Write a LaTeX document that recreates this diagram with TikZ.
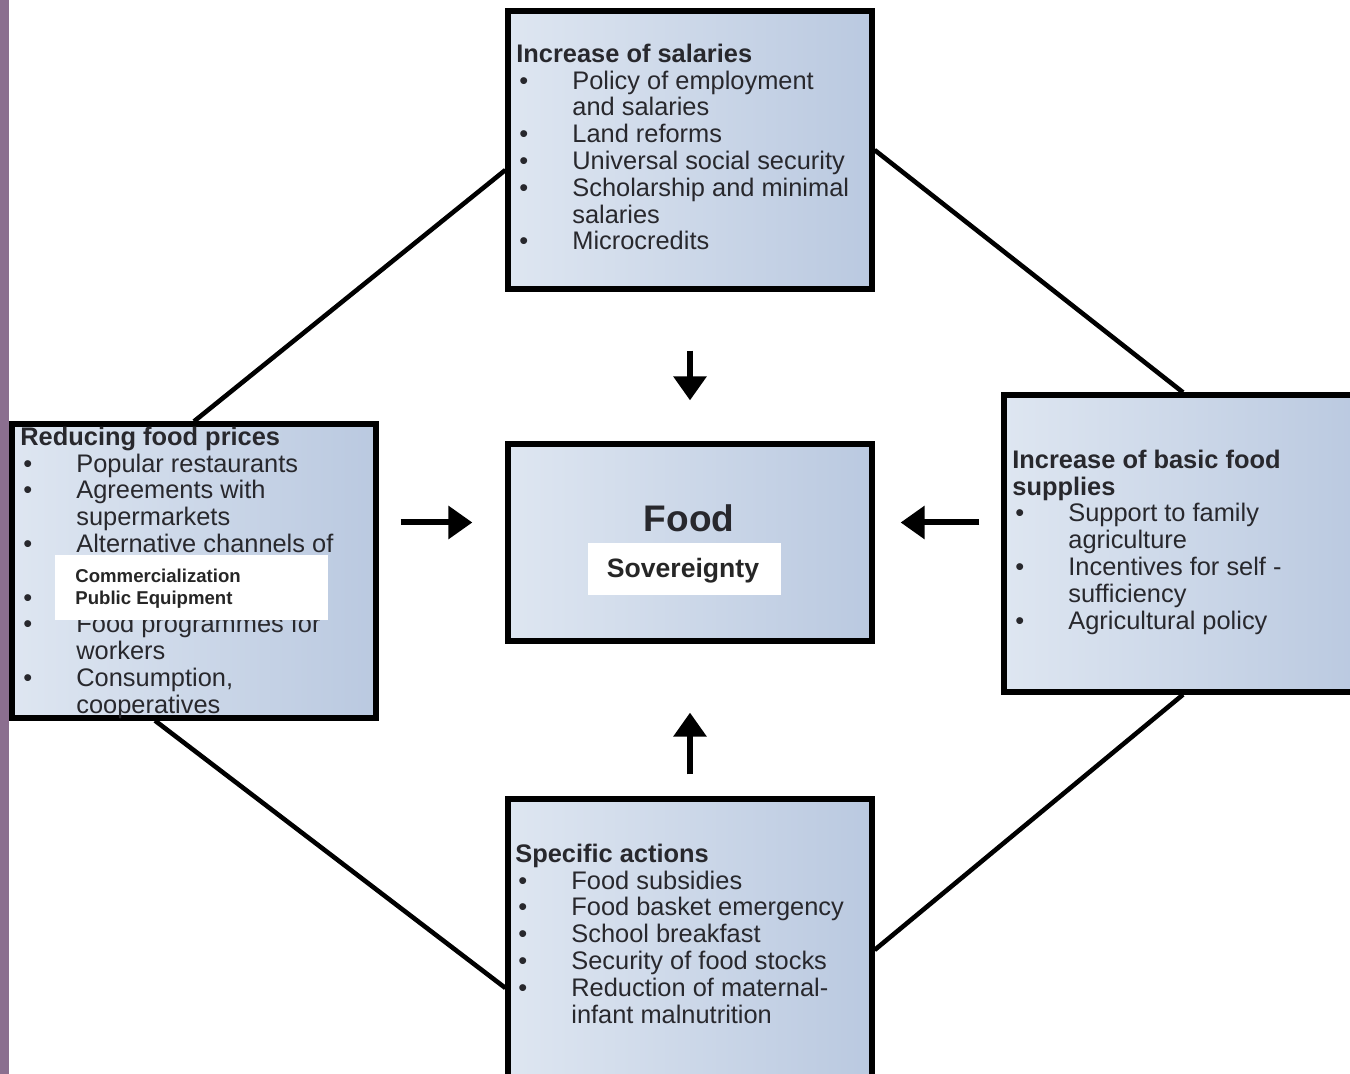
\documentclass[tikz,border=0pt]{standalone}
\usepackage{fontspec}
\setmainfont{Liberation Sans}
\usetikzlibrary{arrows.meta,fit,calc}
\definecolor{txt}{RGB}{40,40,45}
\definecolor{boxL}{RGB}{222,230,241}
\definecolor{boxR}{RGB}{186,201,224}
\definecolor{stripcol}{RGB}{139,111,143}
\definecolor{covertxt}{RGB}{38,38,38}
\newcommand{\bitem}[1]{\makebox[28pt][l]{\hspace*{1.5pt}\textbullet}#1}
\newcommand{\contline}[1]{\hspace*{28pt}#1}
\begin{document}
\begin{tikzpicture}[x=0.5pt,y=-0.5pt,
  box/.style={draw=black, line width=2.6pt, inner sep=0pt, left color=boxL, right color=boxR},
  boxtext/.style={anchor=north west, inner sep=0pt, align=left, text=txt, font=\fontsize{12.7}{13.4}\selectfont},
  link/.style={line width=2.3pt, draw=black},
  arr/.style={line width=3pt, draw=black, -{Triangle[width=16pt,length=12pt]}},
  cover/.style={fill=white, draw=none, inner sep=0pt},
  covertext/.style={anchor=base west, inner sep=0pt, text=covertxt, font=\bfseries\fontsize{9.3}{11}\selectfont}]
\useasboundingbox (0,0) rectangle (1350,1074);
\clip (0,0) rectangle (1350,1074);
\fill[white] (0,0) rectangle (1350,1074);
\fill[stripcol] (0,0) rectangle (9,1074);

% boxes
\node[box, fit={(508,11) (872,289)}] (top) {};
\node[box, fit={(508,444) (872,641)}] (center) {};
\node[box, fit={(12,424) (376,718)}] (left) {};
\node[box, fit={(1004,395) (1362,692)}] (right) {};
\node[box, fit={(508,799) (872,1138)}] (bottom) {};

% connecting lines
\draw[link] ([yshift=-10pt]top.west) -- (left.north);
\draw[link] (top.east) -- (right.north);
\draw[link] ([xshift=-19.5pt]left.south) -- ([yshift=-9.75pt]bottom.west);
\draw[link] (right.south) -- ([yshift=9.25pt]bottom.east);

% arrows
\draw[arr, shorten <=29.5pt, shorten >=20.5pt] (top.south) -- (center.north);
\draw[arr, shorten <=11pt, shorten >=16.5pt] ([yshift=10pt]center.west -| left.east) -- ([yshift=10pt]center.west);
\draw[arr, shorten <=11pt, shorten >=13pt] ([yshift=10pt]center.east -| right.west) -- ([yshift=10pt]center.east);
\draw[arr, shorten <=11pt, shorten >=34.5pt] (bottom.north) -- (center.south);

% texts
\node[boxtext] (topT) at (516,43.2) {\strut\textbf{Increase of salaries}\\
  \bitem{Policy of employment}\\
  \contline{and salaries}\\
  \bitem{Land reforms}\\
  \bitem{Universal social security}\\
  \bitem{Scholarship and minimal}\\
  \contline{salaries}\\
  \bitem{Microcredits}};

\node[boxtext] (leftT) at (20,426.2) {\strut\textbf{Reducing food prices}\\
  \bitem{Popular restaurants}\\
  \bitem{Agreements with}\\
  \contline{supermarkets}\\
  \bitem{Alternative channels of}\\
  \contline{\phantom{commercialization}}\\
  \bitem{\phantom{Public equipment}}\\
  \bitem{Food programmes for}\\
  \contline{workers}\\
  \bitem{Consumption,}\\
  \contline{cooperatives}};

\node[boxtext] (rightT) at (1012,449.2) {\strut\textbf{Increase of basic food}\\
  \textbf{supplies}\\
  \bitem{Support to family}\\
  \contline{agriculture}\\
  \bitem{Incentives for self -}\\
  \contline{sufficiency}\\
  \bitem{Agricultural policy}};

\node[boxtext] (bottomT) at (515,843.2) {\strut\textbf{Specific actions}\\
  \bitem{Food subsidies}\\
  \bitem{Food basket emergency}\\
  \bitem{School breakfast}\\
  \bitem{Security of food stocks}\\
  \bitem{Reduction of maternal-}\\
  \contline{infant malnutrition}};

\node[anchor=base, inner sep=0pt, text=txt, font=\bfseries\fontsize{18.5}{20}\selectfont] (food) at (689,532) {Food};

% white overlays
\node[cover, fit={(588,543) (781,595)}] (sovbox) {};
\node[anchor=base, inner sep=0pt, text=covertxt, font=\bfseries\fontsize{13.3}{15}\selectfont] (sov) at (683,578) {Sovereignty};

\node[cover, fit={(55,555) (328,620)}] (combox) {};
\node[covertext] (com) at (75,583) {Commercialization};
\node[covertext] (pub) at (75,605) {Public Equipment};
\end{tikzpicture}
\end{document}
